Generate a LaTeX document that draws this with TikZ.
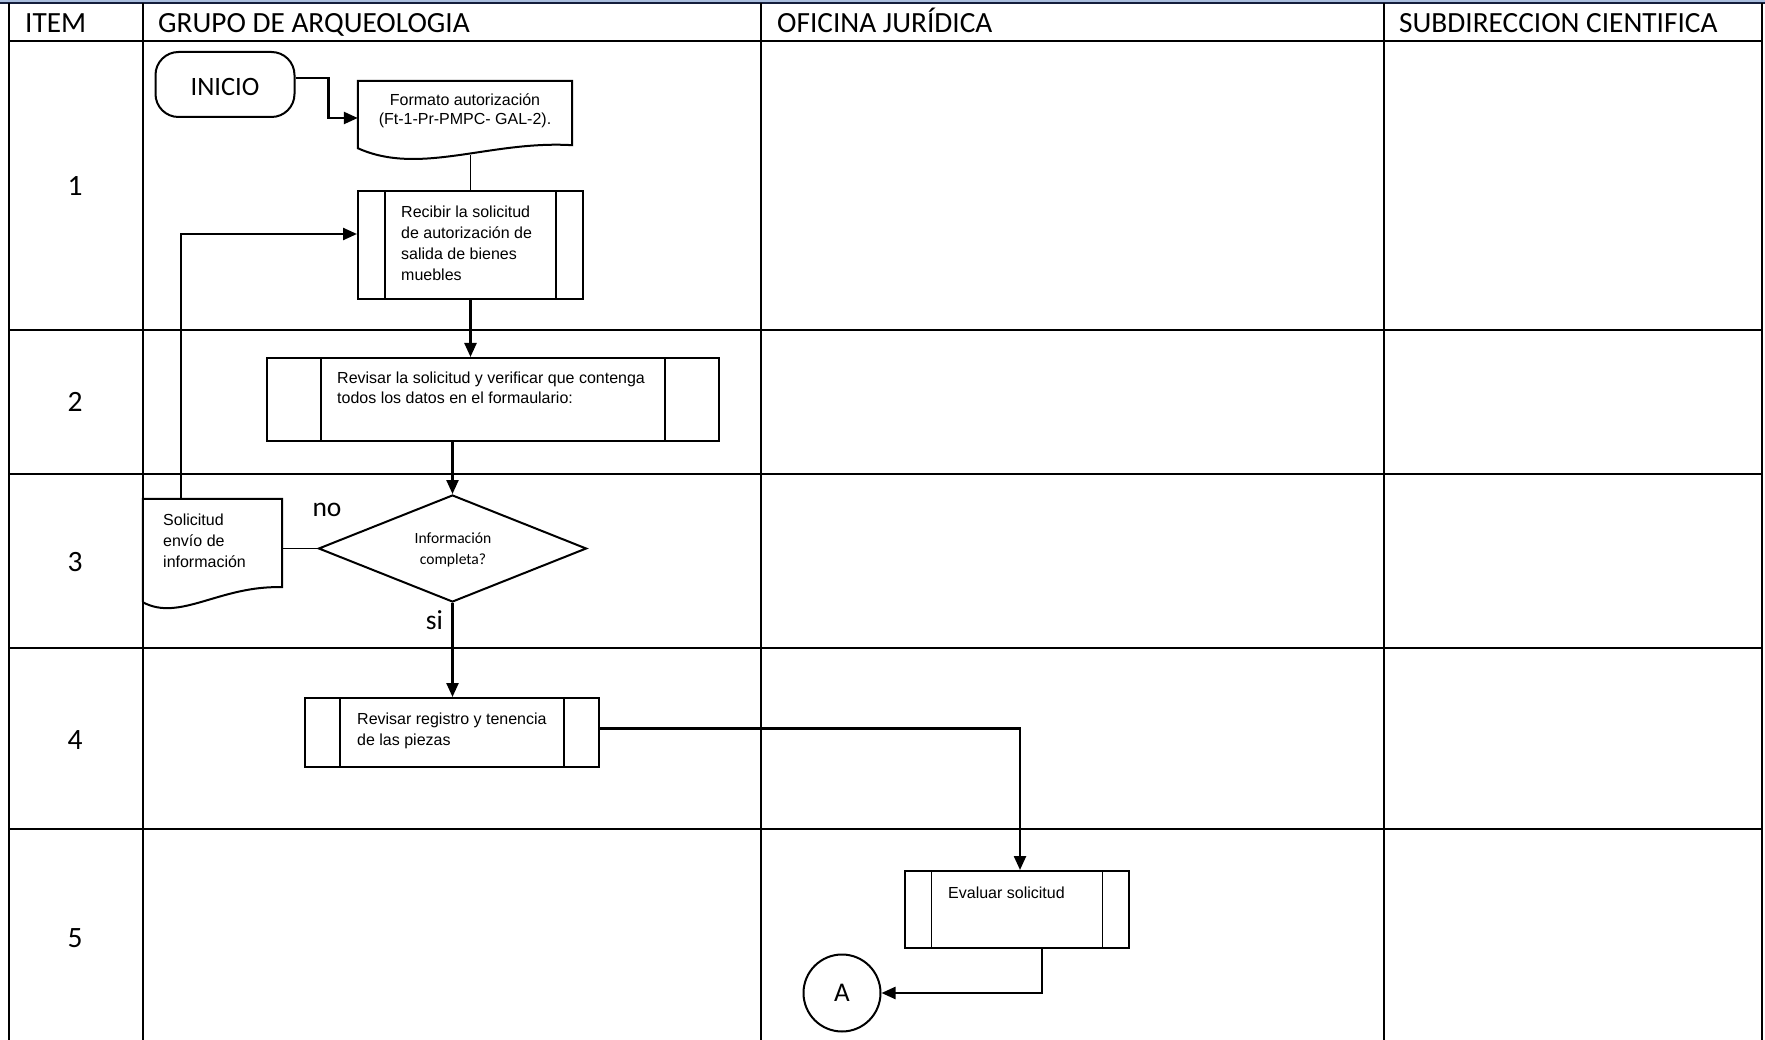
\documentclass[tikz,border=0pt]{standalone}
\usepackage{fontspec}
\setmainfont{Carlito}
\newfontfamily\arialf{Liberation Sans}
\usetikzlibrary{shapes.geometric,arrows.meta,calc}
\definecolor{bandblue}{RGB}{170,190,222}
\definecolor{navyline}{RGB}{20,30,60}
\begin{document}
\begin{tikzpicture}[x=1pt,y=-1pt,
  grid/.style={line width=2.8pt},
  hdr/.style={anchor=base west, inner sep=0pt, font=\fontsize{29.3}{34}\selectfont},
  num/.style={inner sep=0pt, font=\fontsize{29.5}{34}\selectfont},
  lbl/.style={inner sep=0pt, font=\fontsize{27.5}{32}\selectfont},
  shp/.style={draw, line width=2pt, inner sep=0pt},
  proc/.style={shp, path picture={
      \draw[line width=1.3pt] ([xshift=#1]path picture bounding box.north west) -- ([xshift=#1]path picture bounding box.south west)
        ([xshift=-#1]path picture bounding box.north east) -- ([xshift=-#1]path picture bounding box.south east);}},
  ghost/.style={inner sep=0pt, draw=none},
  txt/.style={inner sep=0pt, align=left, anchor=north west, font=\arialf\fontsize{16}{21}\selectfont},
  arr/.style={line width=2.4pt, -{Triangle[length=14pt,width=12pt]}},
  conn/.style={line width=1.9pt}
]
\useasboundingbox (0,0) rectangle (1765,1040);
% table
\fill[bandblue] (0,0) rectangle (1765,3);
\draw[navyline, line width=2pt] (0,3.2) -- (1765,3.2);
\foreach \x in {9,143,761,1384,1762} \draw[grid] (\x,3.5) -- (\x,1040);
\foreach \y in {41,330,474,648,829} \draw[grid] (8,\y) -- (1763,\y);
% headers
\node[hdr] (hItem) at (25,32.5) {ITEM};
\node[hdr] (hGrupo) at (158,32.5) {GRUPO DE ARQUEOLOGIA};
\node[hdr] (hOfi) at (777,32.5) {OFICINA JURÍDICA};
\node[hdr] (hSub) at (1399,32.5) {SUBDIRECCION CIENTIFICA};
% row numbers
\node[num] (n1) at (75,186) {1};
\node[num] (n2) at (75,402) {2};
\node[num] (n3) at (75,562) {3};
\node[num] (n4) at (75,740) {4};
\node[num] (n5) at (75,938) {5};
% shapes
\node[shp, rounded corners=23pt, minimum width=139pt, minimum height=65pt, font=\fontsize{26.5}{30}\selectfont] (inicio) at (225,84.5) {\raisebox{-2.5pt}[\height][0pt]{INICIO}};
\node[ghost, minimum width=214pt, minimum height=67pt] (doc1) at (465,114.5) {};
\draw[line width=2pt] (doc1.south west) -- (doc1.north west) -- (doc1.north east) -- ($(doc1.south east)+(0,-3)$)
  .. controls ($(doc1.south west)+(132,-8)$) and ($(doc1.south west)+(62,28)$) .. (doc1.south west) -- cycle;
\node[txt, align=center, anchor=north, font=\arialf\fontsize{16}{19}\selectfont] (t1) at (465,94) {Formato autorización\\(Ft-1-Pr-PMPC- GAL-2).};
\node[proc=27pt, minimum width=225pt, minimum height=108pt] (recibir) at (470.5,245) {};
\node[txt] (t2) at (401,206) {Recibir la solicitud\\de autorización de\\salida de bienes\\muebles};
\node[proc=54pt, minimum width=452pt, minimum height=83pt] (revisar) at (493,399.5) {};
\node[txt, font=\arialf\fontsize{16}{20}\selectfont] (t3) at (337,372) {Revisar la solicitud y verificar que contenga\\todos los datos en el formaulario:};
\node[shp, diamond, minimum width=268pt, minimum height=107pt] (dec) at (452.5,548.5) {};
\node[inner sep=0pt, align=center, anchor=north, font=\fontsize{15.6}{21}\selectfont] (t4) at (453,532.5) {Información\\completa?};
\node[ghost, minimum width=139pt, minimum height=103pt] (sol) at (212.5,550.5) {};
\draw[line width=2pt] (sol.south west) -- (sol.north west) -- (sol.north east) -- ($(sol.south east)+(0,-15)$)
  .. controls ($(sol.south west)+(77,-17)$) and ($(sol.south west)+(37,20)$) .. (sol.south west);
\node[txt] (t5) at (163,514) {Solicitud\\envío de\\información};
\node[proc=35pt, minimum width=294pt, minimum height=69pt] (registro) at (452,732.5) {};
\node[txt] (t6) at (357,713) {Revisar registro y tenencia\\de las piezas};
\node[proc=26.5pt, minimum width=224pt, minimum height=77pt] (evaluar) at (1017,909.5) {};
\node[txt] (t7) at (948,887) {Evaluar solicitud};
\node[shp, circle, minimum size=77pt, font=\fontsize{27}{30}\selectfont] (A) at (842,993) {A};
% labels
\node[lbl] (lno) at (327,510) {no};
\node[lbl] (lsi) at (434.5,620) {si};
% connectors
\draw[arr] ($(inicio.east)+(0,-6.5)$) -- ++(33,0) |- ($(doc1.west)+(0,3.5)$);
\draw[conn] (recibir.north) -- ++(0,-35);
\draw[arr] (recibir.south) -- (recibir.south |- revisar.north);
\draw[arr] (revisar.south -| dec.north) -- (dec.north);
\draw[arr] (dec.south) -- (dec.south |- registro.north);
\draw[conn] (dec.west) -- (dec.west -| sol.east);
\draw[arr] ($(sol.north west)+(38,0)$) |- ($(recibir.west)+(0,-11)$);
\draw[arr] ($(registro.east)+(0,-4)$) -| ($(evaluar.north)+(3,0)$);
\draw[arr] ($(evaluar.south)+(25,0)$) |- (A.east);
\end{tikzpicture}
\end{document}
